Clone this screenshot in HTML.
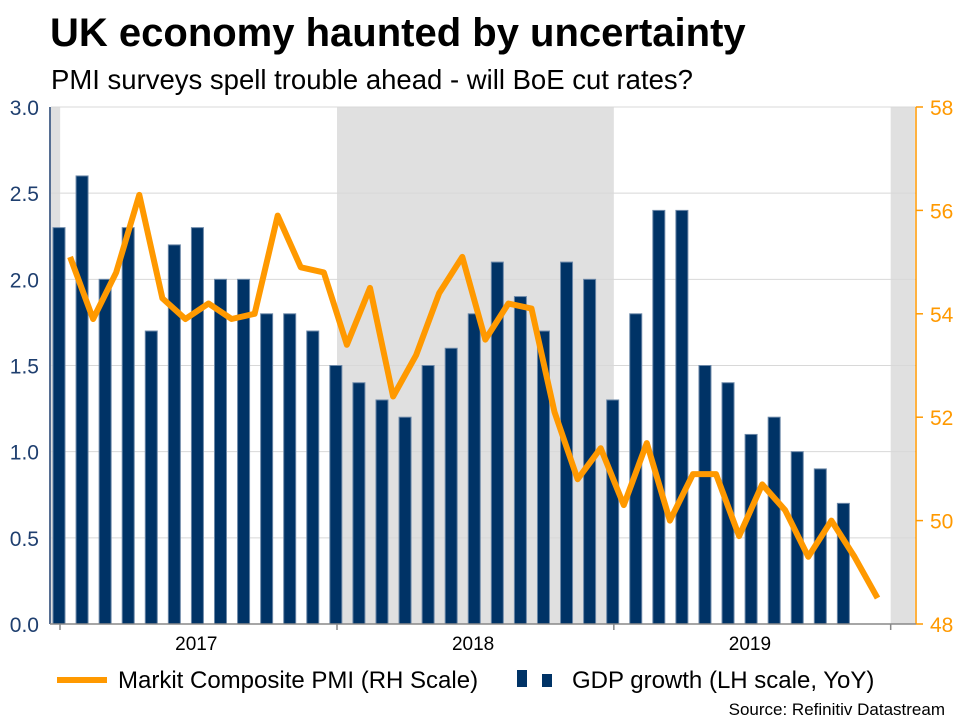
<!DOCTYPE html>
<html><head><meta charset="utf-8"><style>
body{margin:0;background:#fff;font-family:"Liberation Sans",Arial,sans-serif;}
#wrap{position:relative;width:960px;height:720px;overflow:hidden}
</style></head><body>
<div id="wrap">
<svg id="c" width="960" height="720" xmlns="http://www.w3.org/2000/svg">
<text x="50" y="46" font-size="40" font-weight="bold" fill="#000" font-family="Liberation Sans, sans-serif">UK economy haunted by uncertainty</text>
<text x="51" y="89" font-size="27.5" fill="#000" font-family="Liberation Sans, sans-serif">PMI surveys spell trouble ahead - will BoE cut rates?</text>
<g id="shades"></g><g id="grid"></g><g id="bars"></g><g id="line"></g><g id="axes"></g>
<g>
<line x1="57" y1="680" x2="107" y2="680" stroke="#FF9900" stroke-width="6"/>
<text x="118" y="688" font-size="24" fill="#000">Markit Composite PMI (RH Scale)</text>
<rect x="517" y="670" width="10" height="17" fill="#003366"/>
<rect x="542" y="674" width="10" height="13" fill="#003366"/>
<text x="572" y="688" font-size="24" fill="#000">GDP growth (LH scale, YoY)</text>
</g>
<text x="945" y="715" font-size="17" fill="#000" text-anchor="end">Source: Refinitiv Datastream</text>
</svg>
</div>
<script>
const gdp=[2.3,2.6,2.0,2.3,1.7,2.2,2.3,2.0,2.0,1.8,1.8,1.7,1.5,1.4,1.3,1.2,1.5,1.6,1.8,2.1,1.9,1.7,2.1,2.0,1.3,1.8,2.4,2.4,1.5,1.4,1.1,1.2,1.0,0.9,0.7];
const pmi=[55.1,53.9,54.8,56.3,54.3,53.9,54.2,53.9,54.0,55.9,54.9,54.8,53.4,54.5,52.4,53.2,54.4,55.1,53.5,54.2,54.1,52.1,50.8,51.4,50.3,51.5,50.0,50.9,50.9,49.7,50.7,50.2,49.3,50.0,49.3,48.5];
const leftTicks=[0,0.5,1.0,1.5,2.0,2.5,3.0];
const rightTicks=[48,50,52,54,56,58];
const years=["2017","2018","2019"];
const yearStart=[0.05,12.05,24.05];
const shadeRanges=[[-0.35,0.05],[12.05,24.05],[36.05,37.1]];
const X0=51,X1=916,YT=107,YB=624;
const xs=t=>59+23.07*t;
const yl=v=>YB-(v/3)*(YB-YT);
const yr=v=>YB-((v-48)/10)*(YB-YT);
const NS="http://www.w3.org/2000/svg";
function mk(p,tag,a){const e=document.createElementNS(NS,tag);for(const k in a)e.setAttribute(k,a[k]);document.getElementById(p).appendChild(e);return e;}
shadeRanges.forEach((r,i)=>{const a=Math.max(X0,xs(r[0])),b=Math.min(X1,xs(r[1]));
const e=mk("shades","rect",{x:a,y:YT,width:b-a,height:YB-YT,fill:"#e0e0e0"});

});
leftTicks.forEach(v=>{if(v>0){const e=mk("grid","line",{x1:X0,x2:X1,y1:yl(v),y2:yl(v),stroke:"#d8d8d8","stroke-width":1});

}
const t=mk("axes","text",{x:39,y:yl(v)+8,"font-size":21,fill:"#1f3f6f","text-anchor":"end"});t.textContent=v.toFixed(1);

});
rightTicks.forEach(v=>{const t=mk("axes","text",{x:930,y:yr(v)+8,"font-size":21,fill:"#FF9900"});t.textContent=v;


const k=mk("axes","line",{x1:X1,x2:X1+7,y1:yr(v),y2:yr(v),stroke:"#FF9900","stroke-width":1.5});

});
gdp.forEach((v,i)=>{const e=mk("bars","rect",{x:xs(i)-6,y:yl(v),width:12,height:YB-yl(v),fill:"#003366",stroke:"#6c88a8","stroke-width":1});

});
const pts=pmi.map((v,j)=>xs(j+0.48).toFixed(1)+","+yr(v).toFixed(1)).join(" ");
const pl=mk("line","polyline",{points:pts,fill:"none",stroke:"#FF9900","stroke-width":6,"stroke-linejoin":"round"});


let e=mk("axes","line",{x1:X0-1,x2:X0-1,y1:YT,y2:YB,stroke:"#1f3f6f","stroke-width":1.5});


e=mk("axes","line",{x1:X1,x2:X1,y1:YT,y2:YB,stroke:"#FF9900","stroke-width":1.5});


e=mk("axes","line",{x1:X0-1,x2:X1,y1:YB,y2:YB,stroke:"#888","stroke-width":1.5});


[-0.35,12.05,24.05,36.05].forEach(t=>{const k=mk("axes","line",{x1:Math.max(X0+9,xs(t)),x2:Math.max(X0+9,xs(t)),y1:YB,y2:YB+6,stroke:"#888","stroke-width":1.5});

});
years.forEach((y,i)=>{const t=mk("axes","text",{x:xs(yearStart[i]+5.9),y:650,"font-size":19,fill:"#000","text-anchor":"middle"});t.textContent=y;

});
</script>
</body></html>
